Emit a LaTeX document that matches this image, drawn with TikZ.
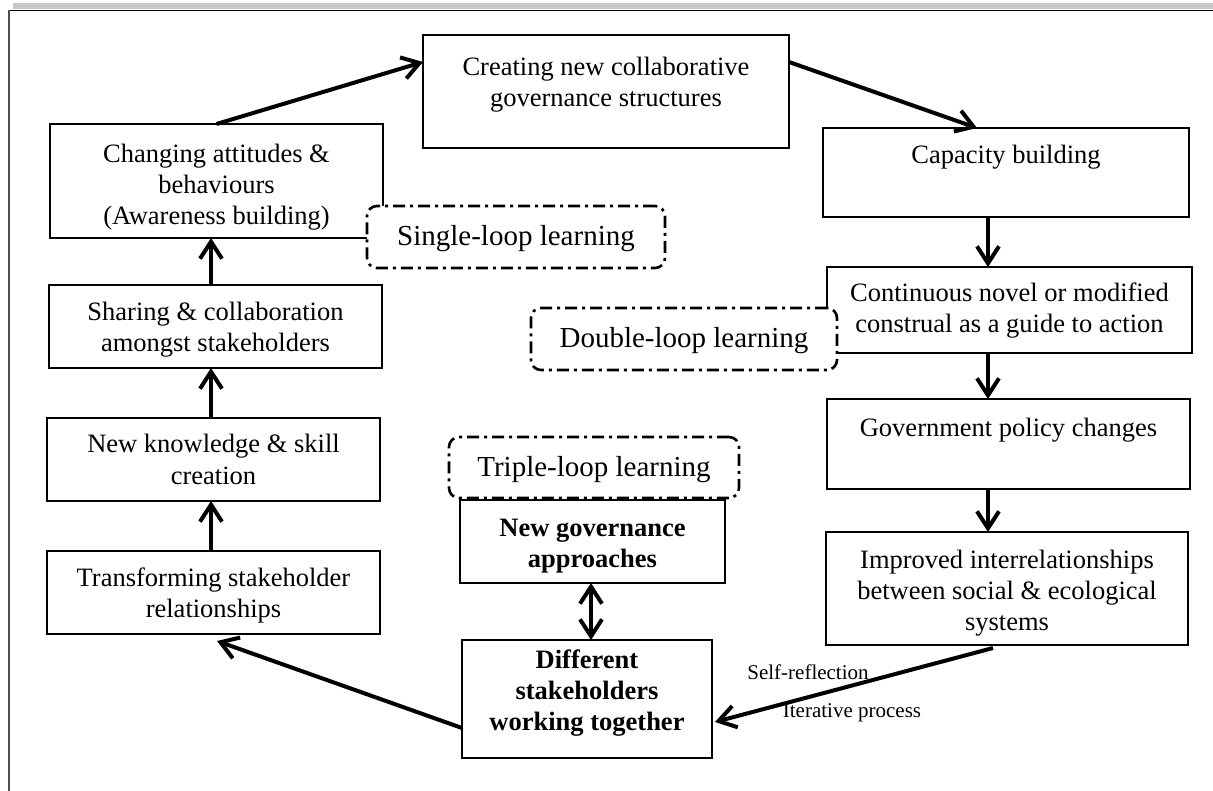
\documentclass[tikz,border=0pt]{standalone}
\usepackage{fontspec}
\setmainfont{Liberation Serif}
\usetikzlibrary{arrows.meta,calc}

% top-aligned, centred text block of fixed size: width, height, top padding, lines
\newcommand\boxlines[4]{\begin{minipage}[c][#2pt][t]{#1pt}\centering\vspace*{#3pt}\strut#4\end{minipage}}

\begin{document}
\begin{tikzpicture}[x=1pt,y=-1pt,
  every node/.style={inner sep=0pt,outer sep=0pt},
  stage/.style={draw=black,line width=1.8pt,fill=white,font=\fontsize{26.5}{31}\selectfont},
  loopbox/.style={draw=black,line width=2.6pt,fill=white,rounded corners=10pt,
    dash pattern=on 12pt off 5pt on 3pt off 5pt,
    font=\fontsize{29}{34}\selectfont,text height=21pt,text depth=4pt},
  note/.style={font=\fontsize{21}{25}\selectfont},
  flow/.style={line width=4pt,-{Straight Barb[length=17pt,width=22pt]}},
  twoway/.style={line width=4pt,{Straight Barb[length=17pt,width=22pt]}-{Straight Barb[length=17pt,width=22pt]}}
]
\useasboundingbox (0,0) rectangle (1213,791);

% page frame
\fill[black!22] (13,3) rectangle (1213,9.5);
\draw[line width=1.5pt,black] (8,10.5) -- (1213,10.5);
\draw[line width=1.5pt,black!70] (9,10.5) -- (9,791);

% left column
\node[stage] (chg) at (216.5,181) {\boxlines{333}{114}{17.3}{Changing attitudes \&\\behaviours\\(Awareness building)}};
\node[stage] (shr) at (215.5,326.5) {\boxlines{333}{83}{14.3}{Sharing \& collaboration\\amongst stakeholders}};
\node[stage] (nks) at (213.5,459.5) {\boxlines{333}{83}{13.3}{New knowledge \& skill\\creation}};
\node[stage] (trf) at (213.5,592.5) {\boxlines{333}{83}{13.3}{Transforming stakeholder\\relationships}};

% top and right column
\node[stage] (cre) at (606,91.5) {\boxlines{366}{113}{19.3}{Creating new collaborative\\governance structures}};
\node[stage] (cap) at (1006,172.5) {\boxlines{366}{89}{14.3}{Capacity building}};
\node[stage] (con) at (1009.5,310) {\boxlines{365}{86}{13.3}{Continuous novel or modified\\construal as a guide to action}};
\node[stage] (gov) at (1008.5,444) {\boxlines{363}{90}{15.3}{Government policy changes}};
\node[stage] (imp) at (1007,588.5) {\boxlines{362}{113}{14.3}{Improved interrelationships\\between social \& ecological\\systems}};

% centre
\node[stage] (ngv) at (592.5,541.5) {\boxlines{265}{83}{14.3}{\bfseries New governance\\approaches}};
\node[stage] (dif) at (587,699) {\boxlines{250}{118}{6.3}{\bfseries Different\\stakeholders\\working together}};

% learning loops
\node[loopbox,minimum width=298pt,minimum height=62pt] (sgl) at (516,237) {Single-loop learning};
\node[loopbox,minimum width=306pt,minimum height=62pt] (dbl) at (684,339) {Double-loop learning};
\node[loopbox,minimum width=290pt,minimum height=61pt] (tpl) at (594,467.5) {Triple-loop learning};

% arrow columns
\coordinate (lx) at (211,0);
\coordinate (rx) at (988,0);
\coordinate (mx) at (591,0);

\draw[flow] (chg.north) -- ($(cre.north west)+(0,27)$);
\draw[flow] ($(cre.north east)+(0,27)$) -- ($(cap.north)+(-29,0)$);
\draw[flow] (cap.south -| rx) -- (con.north -| rx);
\draw[flow] (con.south -| rx) -- (gov.north -| rx);
\draw[flow] (gov.south -| rx) -- (imp.north -| rx);
\draw[flow] ($(imp.south)+(-14,3)$) -- ($(dif.north east)+(3,82)$);
\draw[flow] ($(dif.north west)+(0,88)$) -- ($(trf.south)+(3.5,7)$);
\draw[flow] (trf.north -| lx) -- (nks.south -| lx);
\draw[flow] (nks.north -| lx) -- (shr.south -| lx);
\draw[flow] (shr.north -| lx) -- (chg.south -| lx);
\draw[twoway] (ngv.south -| mx) -- (dif.north -| mx);

% feedback labels
\node[note,anchor=base] (selfref) at (808,679) {Self-reflection};
\node[note,anchor=base] (iter) at (852,717) {Iterative process};
\end{tikzpicture}
\end{document}
